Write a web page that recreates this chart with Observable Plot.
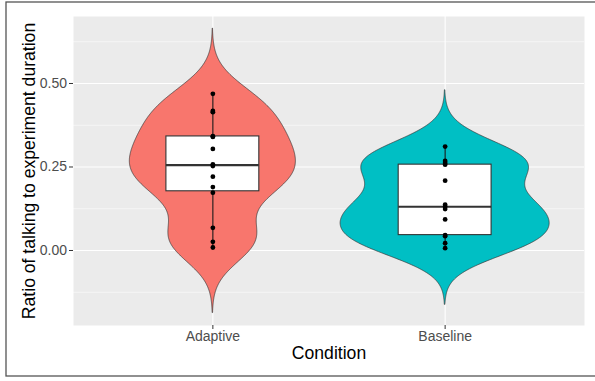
<!DOCTYPE html>
<html>
<head>
<meta charset="utf-8">
<script src="https://cdn.jsdelivr.net/npm/d3@7"></script>
<script src="https://cdn.jsdelivr.net/npm/@observablehq/plot@0.6"></script>
<style>
  html, body { margin: 0; padding: 0; background: white; }
  #chart { width: 595px; height: 381px; }
</style>
</head>
<body>
<div id="chart"></div>
<script>
// ---- data ----
const conditions = ["Adaptive", "Baseline"];
const colors = ["#F8766D", "#00BFC4"];
const adaptiveValues = [0.009, 0.026, 0.068, 0.173, 0.190, 0.221, 0.253, 0.258, 0.304, 0.340, 0.342, 0.414, 0.418, 0.469];
const baselineValues = [0.007, 0.022, 0.043, 0.046, 0.093, 0.124, 0.131, 0.137, 0.209, 0.257, 0.262, 0.268, 0.311];
const yTicks = [0, 0.25, 0.5];
const yMinor = [-0.125, 0.125, 0.375, 0.625];
const yTitle = "Ratio of talking to experiment duration";
const xTitle = "Condition";

const groups = [
  {cond: conditions[0], xc: 1, values: adaptiveValues},
  {cond: conditions[1], xc: 2, values: baselineValues}
];

// ---- stats (ggplot-like: nrd0 bandwidth, gaussian kernel, trim = FALSE) ----
function nrd0(v) {
  const s = d3.sort(v);
  const sd = d3.deviation(s);
  const iqr = d3.quantileSorted(s, 0.75) - d3.quantileSorted(s, 0.25);
  return 0.9 * Math.min(sd, iqr / 1.34) * Math.pow(s.length, -0.2);
}
const violinRows = [];
let maxDens = 0;
const dens = groups.map(g => {
  const bw = nrd0(g.values);
  const lo = d3.min(g.values) - 3 * bw, hi = d3.max(g.values) + 3 * bw;
  const N = 512, out = [];
  for (let i = 0; i < N; i++) {
    const y = lo + (hi - lo) * i / (N - 1);
    let s = 0;
    for (const v of g.values) { const u = (y - v) / bw; s += Math.exp(-0.5 * u * u); }
    const d = s / (g.values.length * bw * Math.sqrt(2 * Math.PI));
    maxDens = Math.max(maxDens, d);
    out.push({cond: g.cond, xc: g.xc, y, d});
  }
  return out;
});
for (const arr of dens) for (const r of arr) violinRows.push({...r, hw: 0.45 * r.d / maxDens});

const boxes = groups.map(g => {
  const s = d3.sort(g.values);
  const q1 = d3.quantileSorted(s, 0.25), q2 = d3.quantileSorted(s, 0.5), q3 = d3.quantileSorted(s, 0.75);
  const iqr = q3 - q1;
  const lo = d3.min(s.filter(v => v >= q1 - 1.5 * iqr));
  const hi = d3.max(s.filter(v => v <= q3 + 1.5 * iqr));
  return {cond: g.cond, xc: g.xc, q1, q2, q3, lo, hi};
});
const pts = groups.flatMap(g => g.values.map(v => ({cond: g.cond, xc: g.xc, v})));

const plot = Plot.plot({
  width: 595,
  height: 381,
  marginLeft: 73,
  marginRight: 11,
  marginTop: 16,
  marginBottom: 56,
  style: {fontFamily: "'Liberation Sans', Arial, Helvetica, sans-serif", background: "white", overflow: "visible"},
  x: {type: "linear", domain: [0.4, 2.6]},
  y: {domain: [-0.2246, 0.7006]},
  color: {domain: conditions, range: colors},
  marks: [
    Plot.frame({fill: "#EBEBEB", stroke: null}),
    Plot.ruleY(yMinor, {stroke: "white", strokeWidth: 0.55}),
    Plot.ruleY(yTicks, {stroke: "white", strokeWidth: 1.1}),
    Plot.ruleX([1, 2], {stroke: "white", strokeWidth: 1.1}),
    Plot.areaX(violinRows, {
      y: "y",
      x1: d => d.xc - d.hw,
      x2: d => d.xc + d.hw,
      z: "cond",
      fill: "cond",
      stroke: "#333333",
      strokeWidth: 0.7
    }),
    Plot.ruleX(boxes, {x: "xc", y1: "lo", y2: "q1", stroke: "#1a1a1a", strokeWidth: 1.1}),
    Plot.ruleX(boxes, {x: "xc", y1: "q3", y2: "hi", stroke: "#1a1a1a", strokeWidth: 1.1}),
    Plot.rect(boxes, {x1: d => d.xc - 0.2, x2: d => d.xc + 0.2, y1: "q1", y2: "q3", fill: "white", stroke: "#333333", strokeWidth: 1.1}),
    Plot.ruleY(boxes, {y: "q2", x1: d => d.xc - 0.2, x2: d => d.xc + 0.2, stroke: "#333333", strokeWidth: 2.1}),
    Plot.dot(pts, {x: "xc", y: "v", r: 2.4, fill: "black", stroke: null}),
    Plot.axisY({ticks: yTicks, tickFormat: d3.format(".2f"), tickSize: 4, tickPadding: 2.5, fontSize: 14, stroke: "#333333", fill: "#4D4D4D", label: null}),
    Plot.axisX({ticks: [1, 2], tickFormat: i => conditions[i - 1], tickSize: 4, tickPadding: 1.5, fontSize: 14, stroke: "#333333", fill: "#4D4D4D", label: null}),
    Plot.text([yTitle], {text: d => d, frameAnchor: "left", dx: -44, rotate: -90, textAnchor: "middle", lineAnchor: "middle", fontSize: 17.6, fill: "black"}),
    Plot.text([xTitle], {text: d => d, frameAnchor: "bottom", dy: 28, textAnchor: "middle", lineAnchor: "middle", fontSize: 17.6, fill: "black"})
  ]
});

d3.select(plot).append("rect")
  .attr("x", 6).attr("y", 2).attr("width", 600).attr("height", 374)
  .attr("fill", "none").attr("stroke", "#555555").attr("stroke-width", 1.3);

document.getElementById("chart").appendChild(plot);
</script>
</body>
</html>
